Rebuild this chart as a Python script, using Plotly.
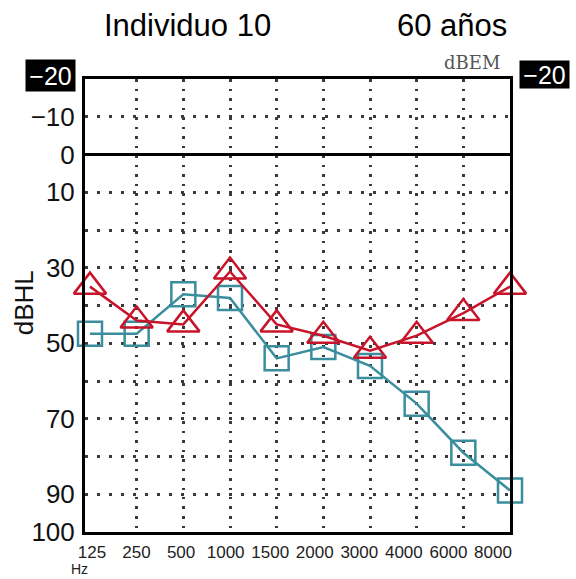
import plotly.graph_objects as go

# ---- data ----
freq_labels = ["125", "250", "500", "1000", "1500", "2000", "3000", "4000", "6000", "8000"]
red_db = [35, 44, 45, 31, 45, 48, 52, 48, 42, 35]          # triangles
blue_db = [47.5, 47.5, 37, 38, 54, 51, 56, 66, 79, 89]      # squares
y_tick_vals = [-10, 0, 10, 30, 50, 70, 90, 100]
y_tick_text = ["\u221210", "0", "10", "30", "50", "70", "90", "100"]
top_label = "\u221220"

idx = list(range(len(freq_labels)))

RED = "#C8142A"
TEAL = "#3A8E9E"
NARROW = "Liberation Sans Narrow, Liberation Sans, Arial, sans-serif"
SANS = "Liberation Sans, Arial, sans-serif"
GRID = "#3a3a3a"

fig = go.Figure()
fig.add_trace(go.Scatter(
    x=idx, y=blue_db, mode="lines+markers",
    line=dict(color=TEAL, width=2.5),
    marker=dict(symbol="square-open", size=24, color=TEAL, line=dict(width=2.5)),
    cliponaxis=False, showlegend=False, hoverinfo="skip"))
fig.add_trace(go.Scatter(
    x=idx, y=red_db, mode="lines+markers",
    line=dict(color=RED, width=2.5),
    marker=dict(symbol="triangle-up-open", size=28, color=RED, line=dict(width=2.5)),
    cliponaxis=False, showlegend=False, hoverinfo="skip"))
# carrier for the frequency label axis (no visible marks)
fig.add_trace(go.Scatter(
    x=idx, y=[None] * len(idx), xaxis="x2", yaxis="y", mode="markers",
    showlegend=False, hoverinfo="skip"))

yfont = dict(family=NARROW, size=26, color="#111")

fig.update_layout(
    width=576, height=579,
    margin=dict(l=85, r=66, t=79, b=47),
    plot_bgcolor="white", paper_bgcolor="white",
    showlegend=False,
    xaxis=dict(
        range=[-0.107, 9], tickmode="array", tickvals=list(range(1, 9)),
        showticklabels=False, ticks="",
        showgrid=True, gridcolor=GRID, gridwidth=2.5, griddash="2.5px,7px",
        zeroline=False, showline=True, linecolor="black", linewidth=3, mirror=True,
    ),
    xaxis2=dict(
        overlaying="x", anchor="y", side="bottom",
        range=[-0.157, 9.382], tickmode="array", tickvals=idx, ticktext=freq_labels,
        showgrid=False, zeroline=False, showline=False, ticks="",
        tickfont=dict(family=NARROW, size=17, color="#222"),
        ticklabelstandoff=8,
    ),
    yaxis=dict(
        range=[100, -20], tickmode="array", tickvals=y_tick_vals, ticktext=y_tick_text,
        showgrid=True, gridcolor=GRID, gridwidth=2.5, griddash="2.5px,9.5px",
        minor=dict(tickmode="linear", tick0=0, dtick=10, showgrid=True,
                   gridcolor=GRID, gridwidth=2.5, griddash="2.5px,9.5px"),
        zeroline=True, zerolinecolor="black", zerolinewidth=3,
        showline=True, linecolor="black", linewidth=3, mirror=True, ticks="",
        tickfont=yfont, ticklabelstandoff=2,
    ),
    yaxis2=dict(
        overlaying="y", anchor="x", side="right",
        range=[100, -20], tickmode="array", tickvals=y_tick_vals, ticktext=y_tick_text,
        showgrid=False, zeroline=False, showline=False, ticks="",
        tickfont=yfont, ticklabelstandoff=19,
    ),
    annotations=[
        dict(text="Individuo 10", xref="paper", yref="paper", x=0, xshift=102, y=1, yshift=54,
             xanchor="center", yanchor="middle", showarrow=False,
             font=dict(family=SANS, size=31, color="black")),
        dict(text="60 años", xref="paper", yref="paper", x=0, xshift=367, y=1, yshift=54,
             xanchor="center", yanchor="middle", showarrow=False,
             font=dict(family=SANS, size=31, color="black")),
        dict(text="dBEM", xref="paper", yref="paper", x=1, xshift=-8, y=1, yshift=17,
             xanchor="right", yanchor="middle", showarrow=False,
             font=dict(family="DejaVu Serif, Liberation Serif, serif", size=18, color="#555")),
        dict(text=top_label, xref="paper", yref="y", x=0, xshift=-9, y=-20, yshift=4,
             xanchor="right", yanchor="middle", showarrow=False,
             bgcolor="black", borderpad=2, width=45, height=27,
             font=dict(family=NARROW, size=25, color="white")),
        dict(text=top_label, xref="paper", yref="y", x=1, xshift=9, y=-20, yshift=5,
             xanchor="left", yanchor="middle", showarrow=False,
             bgcolor="black", borderpad=2, width=45, height=23,
             font=dict(family=NARROW, size=25, color="white")),
        dict(text="dBHL", xref="paper", yref="paper", x=0, xshift=-61, y=0.505,
             xanchor="center", yanchor="middle", showarrow=False, textangle=-90,
             font=dict(family=NARROW, size=26, color="#111")),
        dict(text="Hz", xref="paper", yref="paper", x=0, xshift=-6, y=0, yshift=-37,
             xanchor="center", yanchor="middle", showarrow=False,
             font=dict(family=NARROW, size=14, color="#222")),
    ],
)

fig.write_html("out.html")
